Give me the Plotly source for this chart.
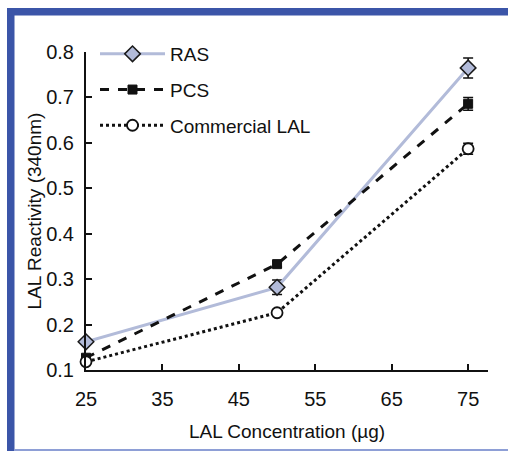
import plotly.graph_objects as go

# ---- data ----
concentration = [25, 50, 75]
ras = [0.162, 0.282, 0.765]
ras_err = [0.0, 0.016, 0.022]
pcs = [0.127, 0.333, 0.686]
pcs_err = [0.0, 0.006, 0.014]
commercial = [0.118, 0.226, 0.587]
commercial_err = [0.0, 0.0, 0.012]
x_ticks = [25, 35, 45, 55, 65, 75]
y_ticks = [0.1, 0.2, 0.3, 0.4, 0.5, 0.6, 0.7, 0.8]

W, H = 508, 451
L, R, T, B = 86, 20, 52, 81
PW, PH = W - L - R, H - T - B


def px(xp):
    return (xp - L) / PW


def py(yp):
    return (H - B - yp) / PH


FONT = "Liberation Sans, Arial, sans-serif"

fig = go.Figure()

fig.add_trace(go.Scatter(
    x=concentration, y=ras, name="RAS", mode="lines+markers",
    line=dict(color="#b2bbd9", width=3),
    marker=dict(symbol="diamond", size=12, color="#b2bbd9",
                line=dict(color="#1a1a1a", width=1.5)),
    error_y=dict(type="data", array=ras_err, visible=True, color="#111111",
                 thickness=1.5, width=5),
    legendgroup="a", cliponaxis=False,
))
fig.add_trace(go.Scatter(
    x=concentration, y=pcs, name="PCS", mode="lines+markers",
    line=dict(color="#111111", width=3, dash="dash"),
    marker=dict(symbol="square", size=9, color="#111111",
                line=dict(color="#111111", width=1)),
    error_y=dict(type="data", array=pcs_err, visible=True, color="#111111",
                 thickness=1.5, width=5),
    legendgroup="b", cliponaxis=False,
))
fig.add_trace(go.Scatter(
    x=concentration, y=commercial, name="Commercial LAL", mode="lines+markers",
    line=dict(color="#111111", width=3, dash="dot"),
    marker=dict(symbol="circle", size=11, color="white",
                line=dict(color="#111111", width=1.8)),
    error_y=dict(type="data", array=commercial_err, visible=True, color="#111111",
                 thickness=1.5, width=5),
    legendgroup="c", cliponaxis=False,
))

# decorative frame
FRAME = "#3b55a8"
fig.add_shape(type="rect", xref="paper", yref="paper",
              x0=px(7), x1=px(14.5), y0=py(451), y1=py(8),
              line=dict(width=0), fillcolor=FRAME, layer="above")
fig.add_shape(type="rect", xref="paper", yref="paper",
              x0=px(7), x1=px(508), y0=py(15.5), y1=py(8),
              line=dict(width=0), fillcolor=FRAME, layer="above")
fig.add_shape(type="line", xref="paper", yref="paper",
              x0=px(14), x1=px(508), y0=py(450), y1=py(450),
              line=dict(color="#8e9fd6", width=2))

fig.update_layout(
    width=W, height=H,
    margin=dict(l=L, r=R, t=T, b=B),
    paper_bgcolor="white", plot_bgcolor="white",
    font=dict(family=FONT, size=20, color="#111111"),
    showlegend=True,
    legend=dict(x=px(95), y=py(35), xanchor="left", yanchor="top",
                bgcolor="rgba(0,0,0,0)", font=dict(size=19),
                traceorder="grouped", tracegroupgap=8, itemwidth=65),
    xaxis=dict(range=[25, 77.6], tickvals=x_ticks, ticks="inside", ticklen=6,
               tickwidth=1.5, tickcolor="#111111", showline=True, linecolor="#111111",
               linewidth=2, showgrid=False, zeroline=False, ticklabelstandoff=10,
               title=dict(text="LAL Concentration (µg)", font=dict(size=19), standoff=16)),
    yaxis=dict(range=[0.1, 0.8], tickvals=y_ticks, tickformat=".1f", ticks="inside",
               ticklen=6, tickwidth=1.5, tickcolor="#111111", showline=True,
               linecolor="#111111", linewidth=2, showgrid=False, zeroline=False,
               ticklabelstandoff=6,
               title=dict(text="LAL Reactivity (340nm)", font=dict(size=19), standoff=0)),
)

fig.write_html(
    "out.html", config={"displayModeBar": False},
    post_script=("document.body.style.margin='0px';"
                 "document.body.style.overflow='hidden';"
                 "document.documentElement.style.overflow='hidden';"))
